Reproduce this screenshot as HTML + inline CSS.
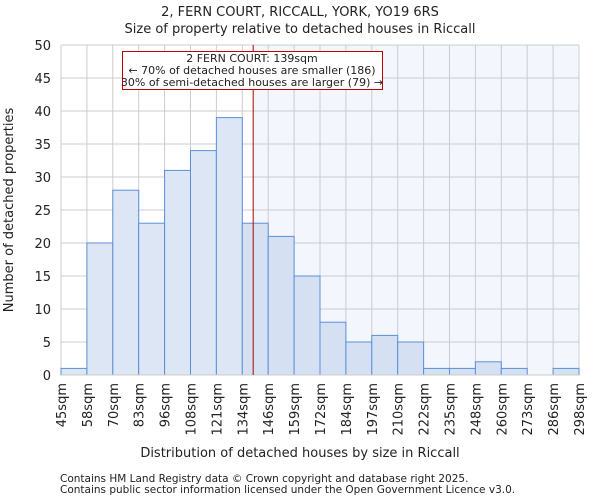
<!DOCTYPE html>
<html><head><meta charset="utf-8"><style>
body{margin:0;background:#fff;font-family:"DejaVu Sans","Liberation Sans",sans-serif;}
svg text{font-family:"DejaVu Sans","Liberation Sans",sans-serif;fill:#222;}
</style></head><body>
<svg id="c" width="600" height="500" xmlns="http://www.w3.org/2000/svg">
<text x="300" y="16" text-anchor="middle" font-size="13">2, FERN COURT, RICCALL, YORK, YO19 6RS</text>
<text x="300" y="33" text-anchor="middle" font-size="13">Size of property relative to detached houses in Riccall</text>
<text x="300" y="457" text-anchor="middle" font-size="13">Distribution of detached houses by size in Riccall</text>
<text transform="translate(13,210) rotate(-90)" text-anchor="middle" font-size="13">Number of detached properties</text>
<text x="60" y="482" font-size="10.5" fill="#444">Contains HM Land Registry data © Crown copyright and database right 2025.</text>
<text x="60" y="493" font-size="10.5" fill="#444">Contains public sector information licensed under the Open Government Licence v3.0.</text>
<g id="g"></g>
</svg>
<script>
const categories=["45sqm","58sqm","70sqm","83sqm","96sqm","108sqm","121sqm","134sqm","146sqm","159sqm","172sqm","184sqm","197sqm","210sqm","222sqm","235sqm","248sqm","260sqm","273sqm","286sqm","298sqm"];
const counts=[1,20,28,23,31,34,39,23,21,15,8,5,6,5,1,1,2,1,0,1];
const yTicks=[0,5,10,15,20,25,30,35,40,45,50];
const propertyIndex=7.42;
const NS="http://www.w3.org/2000/svg";
const g=document.getElementById('g');
const x0=61,x1=579,y0=375,y1=45,nb=counts.length;
const X=i=>x0+(x1-x0)*i/nb;
const Y=v=>y0-(y0-y1)*v/50;
function mk(t,a){const e=document.createElementNS(NS,t);for(const k in a)e.setAttribute(k,a[k]);g.appendChild(e);return e;}
let e;
e=mk('rect',{x:X(propertyIndex),y:y1,width:x1-X(propertyIndex),height:y0-y1,fill:'#f3f6fd'});


yTicks.forEach(v=>{
 e=mk('line',{x1:x0,x2:x1,y1:Y(v),y2:Y(v),stroke:'#ccc'});
 
 
 e=mk('text',{x:x0-10,y:Y(v)+5,'text-anchor':'end','font-size':13});
 e.textContent=v;
 
 
});
categories.forEach((c,i)=>{
 e=mk('line',{x1:X(i),x2:X(i),y1:y1,y2:y0,stroke:'#ccc'});
 
 
 e=mk('text',{transform:`translate(${X(i)+5},${y0+8}) rotate(-90)`,'text-anchor':'end','font-size':13});
 e.textContent=c;
 
 
});
counts.forEach((v,i)=>{
 if(v<=0)return;
 e=mk('rect',{x:X(i),y:Y(v),width:X(i+1)-X(i),height:y0-Y(v),fill:i+0.5>propertyIndex?'#d6e0f3':'#dce6f4',stroke:'#5b8fd9','stroke-width':1});
 
 
});
e=mk('line',{x1:x0,x2:x1,y1:y0,y2:y0,stroke:'#ccc'});


e=mk('line',{x1:X(propertyIndex),x2:X(propertyIndex),y1:y1,y2:y0,stroke:'#b00000','stroke-width':1});


e=mk('rect',{x:122.5,y:51.5,width:260,height:38,fill:'#fff',stroke:'#c00000'});


["2 FERN COURT: 139sqm","← 70% of detached houses are smaller (186)","30% of semi-detached houses are larger (79) →"].forEach((t,k)=>{
 e=mk('text',{x:252,y:62+k*12,'text-anchor':'middle','font-size':11});
 e.textContent=t;
 
 
});
</script>
</body></html>
